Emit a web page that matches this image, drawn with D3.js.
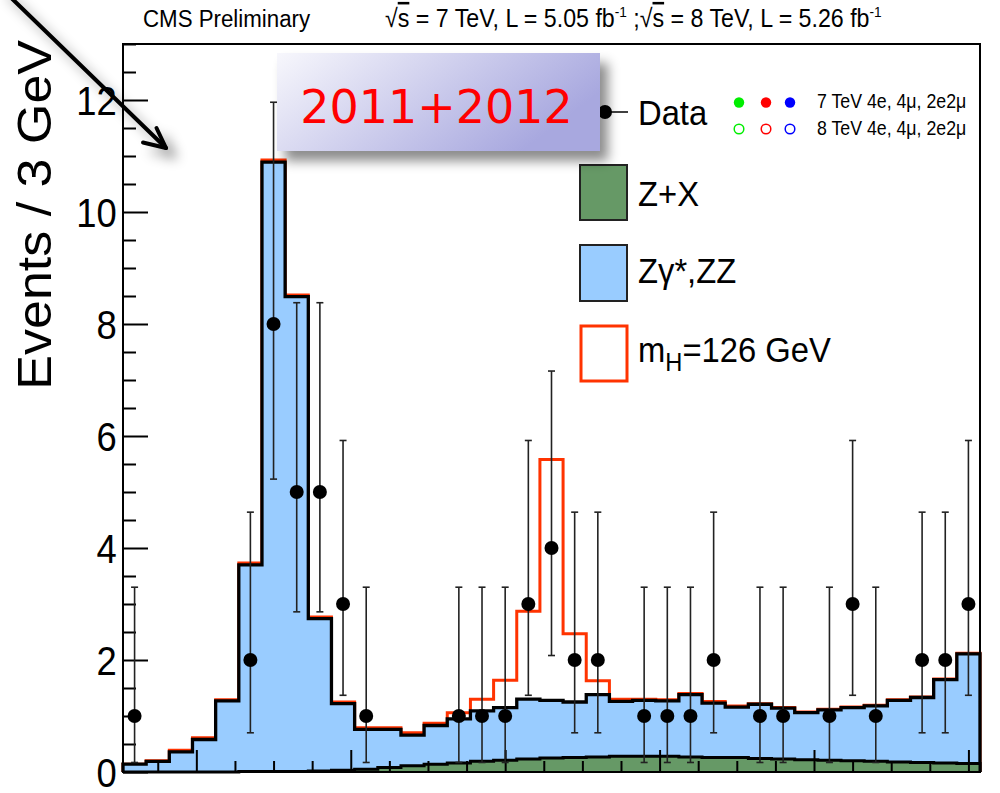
<!DOCTYPE html>
<html>
<head>
<meta charset="utf-8">
<script src="https://cdn.jsdelivr.net/npm/d3@7"></script>
<style>
  body { margin: 0; background: #fff; }
  svg { display: block; }
</style>
</head>
<body>
<script>
// Four-lepton invariant mass, 3 GeV bins from 70.5 to 181.5 GeV
const binCenters = d3.range(72, 181, 3);

// Observed events per bin
const dataCounts = [1,0,0,0,0,2,8,5,5,3,1,0,0,0,1,1,1,3,4,2,2,0,1,1,1,2,0,1,1,0,1,3,1,0,2,2,3];

// 68% Poisson intervals for the observed counts
const poissonN    = [1, 2, 3, 4, 5, 8];
const poissonLow  = [0.17, 0.70, 1.37, 2.08, 2.86, 5.23];
const poissonHigh = [3.30, 4.64, 5.92, 7.16, 8.38, 11.96];

// Expected yields per bin
const zxYield = [0.00,0.00,0.00,0.00,0.00,0.01,0.01,0.01,0.02,0.03,0.05,0.08,0.11,0.14,0.16,0.19,0.21,0.23,0.25,0.26,0.27,0.28,0.28,0.28,0.27,0.26,0.26,0.24,0.23,0.22,0.21,0.20,0.19,0.18,0.17,0.16,0.15];
const zzYield = [0.14,0.19,0.36,0.58,1.27,3.69,10.88,8.48,2.72,1.19,0.71,0.68,0.55,0.69,0.79,0.90,0.94,1.07,1.03,0.99,1.11,0.98,1.00,0.99,1.11,0.97,0.90,0.97,0.91,0.84,0.90,0.95,0.99,1.10,1.16,1.49,1.96];
const higgsYield = [0.00,0.01,0.03,0.03,0.02,0.03,0.04,0.03,0.03,0.03,0.03,0.03,0.04,0.04,0.11,0.21,0.49,1.57,4.30,1.22,0.25,0.04,0.02,0.02,0.02,0.03,0.02,0.01,0.01,0.01,0.01,0.01,0.01,0.01,0.01,0.01,0.01];

// Axis ticks
const yMajorTicks = [0, 2, 4, 6, 8, 10, 12];
const yMinorTicks = d3.range(0.5, 13.01, 0.5).filter(v => v % 2 !== 0);
const xMajorTicks = [80, 100, 120, 140, 160, 180];
const xMinorTicks = [75, 85, 90, 95, 105, 110, 115, 125, 130, 135, 145, 150, 155, 165, 170, 175];

// Legend entries for the channel markers
const channelColors = ["#00ee00", "#ff0000", "#0000ff"];
const channelLines = ["7 TeV 4e, 4\u03bc, 2e2\u03bc", "8 TeV 4e, 4\u03bc, 2e2\u03bc"];

const W = 1000, H = 793;
const frame = { left: 123, right: 980, top: 44, bottom: 772 };
const SANS = "'Liberation Sans', Arial, Helvetica, sans-serif";
const SQUEEZE = 0.91;

const colors = { zx: "#669966", zz: "#99ccff", higgs: "#ff3300" };

const svg = d3.select("body").append("svg")
  .attr("width", W).attr("height", H)
  .attr("viewBox", `0 0 ${W} ${H}`);

const defs = svg.append("defs");
const shadow = defs.append("filter").attr("id", "softShadow")
  .attr("x", "-30%").attr("y", "-30%").attr("width", "160%").attr("height", "170%");
shadow.append("feDropShadow").attr("dx", 8).attr("dy", 10)
  .attr("stdDeviation", 6).attr("flood-color", "#000").attr("flood-opacity", 0.45);

const arrowShadow = defs.append("filter").attr("id", "arrowShadow")
  .attr("x", "-50%").attr("y", "-50%").attr("width", "200%").attr("height", "200%");
arrowShadow.append("feDropShadow").attr("dx", 9).attr("dy", 9)
  .attr("stdDeviation", 6).attr("flood-color", "#000").attr("flood-opacity", 0.4);

const grad = defs.append("linearGradient").attr("id", "boxFill")
  .attr("x1", "0").attr("y1", "0").attr("x2", "1").attr("y2", "0.4");
grad.append("stop").attr("offset", "0%").attr("stop-color", "#f7f7fc");
grad.append("stop").attr("offset", "100%").attr("stop-color", "#a8a8df");

const x = d3.scaleLinear().domain([70.5, 181.5]).range([frame.left, frame.right]);
const y = d3.scaleLinear().domain([0, 13]).range([frame.bottom, frame.top]);

// Stack Z+X, ZZ and the signal
const rows = binCenters.map((m, i) => ({ m, zx: zxYield[i], zz: zzYield[i], higgs: higgsYield[i] }));
const stacked = d3.stack().keys(["zx", "zz", "higgs"])(rows);

function stepOutline(series) {
  const pts = [[x(binCenters[0] - 1.5), y(0)]];
  series.forEach((d, i) => pts.push([x(binCenters[i] - 1.5), y(d[1])]));
  pts.push([x(binCenters[binCenters.length - 1] + 1.5), y(0)]);
  return d3.line().curve(d3.curveStepAfter)(pts);
}
function stepArea(series) {
  const pts = series.map((d, i) => ({ x: binCenters[i] - 1.5, top: d[1] }));
  pts.push({ x: binCenters[binCenters.length - 1] + 1.5, top: series[series.length - 1][1] });
  return d3.area().curve(d3.curveStepAfter)
    .x(d => x(d.x)).y0(y(0)).y1(d => y(d.top))(pts);
}

const plot = svg.append("g");

// Signal + background outline
plot.append("path").attr("d", stepOutline(stacked[2]))
  .attr("fill", "none").attr("stroke", colors.higgs).attr("stroke-width", 3)
  .attr("stroke-linejoin", "miter");

// ZZ (stacked on Z+X)
plot.append("path").attr("d", stepArea(stacked[1])).attr("fill", colors.zz);
plot.append("path").attr("d", stepOutline(stacked[1]))
  .attr("fill", "none").attr("stroke", "#000").attr("stroke-width", 3.3);

// Z+X
plot.append("path").attr("d", stepArea(stacked[0])).attr("fill", colors.zx);
plot.append("path").attr("d", stepOutline(stacked[0]))
  .attr("fill", "none").attr("stroke", "#000").attr("stroke-width", 3);

// X axis ticks (inside, pointing up)
function xTicks(values, size) {
  const g = svg.append("g").attr("transform", `translate(0,${frame.bottom})`)
    .call(d3.axisTop(x).tickValues(values).tickSize(size).tickFormat(""));
  g.select(".domain").remove();
  g.selectAll("line").attr("stroke", "#000").attr("stroke-width", 2);
}
xTicks(xMajorTicks, 22);
xTicks(xMinorTicks, 11);

// Y axis ticks (inside, pointing right) and labels
const yMinor = svg.append("g").attr("transform", `translate(${frame.left},0)`)
  .call(d3.axisLeft(y).tickValues(yMinorTicks).tickSize(-13).tickFormat(""));
yMinor.select(".domain").remove();
yMinor.selectAll("line").attr("stroke", "#000").attr("stroke-width", 2);

const yMajor = svg.append("g").attr("transform", `translate(${frame.left},0)`)
  .call(d3.axisLeft(y).tickValues(yMajorTicks).tickSize(-25).tickPadding(7).tickFormat(d3.format("d")));
yMajor.select(".domain").remove();
yMajor.selectAll("line").attr("stroke", "#000").attr("stroke-width", 2);
yMajor.attr("font-family", SANS).attr("font-size", 40);
yMajor.selectAll("text").attr("fill", "#000").attr("dy", "0.36em")
  .attr("transform", `scale(${SQUEEZE},1)`);

// Data with error bars
const points = binCenters.map((m, i) => {
  const n = dataCounts[i];
  const k = poissonN.indexOf(n);
  return { m, n, lo: k >= 0 ? poissonLow[k] : null, hi: k >= 0 ? poissonHigh[k] : null };
}).filter(d => d.n > 0);

const dataG = svg.append("g");
const bars = dataG.selectAll("g.bar").data(points).join("g").attr("class", "bar");
bars.append("line")
  .attr("x1", d => x(d.m)).attr("x2", d => x(d.m))
  .attr("y1", d => y(d.lo)).attr("y2", d => y(d.hi))
  .attr("stroke", "#222").attr("stroke-width", 1.6);
bars.append("line")
  .attr("x1", d => x(d.m) - 3.5).attr("x2", d => x(d.m) + 3.5)
  .attr("y1", d => y(d.lo)).attr("y2", d => y(d.lo))
  .attr("stroke", "#222").attr("stroke-width", 1.6);
bars.append("line")
  .attr("x1", d => x(d.m) - 3.5).attr("x2", d => x(d.m) + 3.5)
  .attr("y1", d => y(d.hi)).attr("y2", d => y(d.hi))
  .attr("stroke", "#222").attr("stroke-width", 1.6);
bars.append("circle")
  .attr("cx", d => x(d.m)).attr("cy", d => y(d.n)).attr("r", 7).attr("fill", "#000");

// Frame
svg.append("rect")
  .attr("x", frame.left).attr("y", frame.top)
  .attr("width", frame.right - frame.left).attr("height", frame.bottom - frame.top)
  .attr("fill", "none").attr("stroke", "#000").attr("stroke-width", 2);

// Text helper with the horizontal squeeze used throughout
function txt(parent, px, py, size, anchor) {
  return parent.append("text")
    .attr("transform", `translate(${px},${py}) scale(${SQUEEZE},1)`)
    .attr("font-family", SANS).attr("font-size", size)
    .attr("text-anchor", anchor || "start").attr("fill", "#000");
}

// Y axis title
svg.append("text")
  .attr("transform", `translate(51,40) scale(${SQUEEZE},1) rotate(-90)`)
  .attr("font-family", SANS).attr("font-size", 52)
  .attr("text-anchor", "end").attr("fill", "#000")
  .text("Events / 3 GeV");

// Header
txt(svg, 143, 27, 24.5).text("CMS Preliminary");
const lumi = txt(svg, 385, 27, 25.5);
function sqrtS(t) {
  t.append("tspan").text("\u221a");
  t.append("tspan").attr("text-decoration", "overline").text("s");
}
sqrtS(lumi);
lumi.append("tspan").text(" = 7 TeV, L = 5.05 fb");
lumi.append("tspan").attr("font-size", 15).attr("dy", -10).text("-1");
lumi.append("tspan").attr("dy", 10).text(" ;");
sqrtS(lumi);
lumi.append("tspan").text(" = 8 TeV, L = 5.26 fb");
lumi.append("tspan").attr("font-size", 15).attr("dy", -10).text("-1");

// Legend
const leg = svg.append("g");
leg.append("line").attr("x1", 583).attr("x2", 628).attr("y1", 112).attr("y2", 112)
  .attr("stroke", "#000").attr("stroke-width", 1.6);
leg.append("circle").attr("cx", 605).attr("cy", 112).attr("r", 7).attr("fill", "#000");
txt(leg, 638, 125, 36).text("Data");

leg.append("rect").attr("x", 580).attr("y", 165).attr("width", 47).attr("height", 55)
  .attr("fill", colors.zx).attr("stroke", "#222").attr("stroke-width", 2);
txt(leg, 638, 206, 36).text("Z+X");

leg.append("rect").attr("x", 580).attr("y", 245).attr("width", 47).attr("height", 56)
  .attr("fill", colors.zz).attr("stroke", "#222").attr("stroke-width", 2);
txt(leg, 638, 283, 36).text("Z\u03b3*,ZZ");

leg.append("rect").attr("x", 581).attr("y", 326).attr("width", 46).attr("height", 55)
  .attr("fill", "#fff").attr("stroke", colors.higgs).attr("stroke-width", 3);
const mh = txt(leg, 638, 362, 36);
mh.append("tspan").text("m");
mh.append("tspan").attr("font-size", 26).attr("dy", 9).text("H");
mh.append("tspan").attr("dy", -9).text("=126 GeV");

// Channel markers: filled for 7 TeV, open for 8 TeV
const markerX = [739, 766, 790];
channelColors.forEach((c, i) => {
  leg.append("circle").attr("cx", markerX[i]).attr("cy", 102.5).attr("r", 5.2).attr("fill", c);
  leg.append("circle").attr("cx", markerX[i]).attr("cy", 129).attr("r", 4.8)
    .attr("fill", "none").attr("stroke", c).attr("stroke-width", 1.5);
});
txt(leg, 817, 108, 19.5).text(channelLines[0]);
txt(leg, 817, 135, 19.5).text(channelLines[1]);

// Period banner
const banner = svg.append("g");
banner.append("rect").attr("x", 277).attr("y", 53).attr("width", 323).attr("height", 98)
  .attr("fill", "url(#boxFill)").attr("filter", "url(#softShadow)");
banner.append("text").attr("x", 436.5).attr("y", 123)
  .attr("font-family", "'DejaVu Sans', Verdana, sans-serif").attr("font-size", 46)
  .attr("text-anchor", "middle").attr("fill", "#ff0000").text("2011+2012");

// Pointer arrow
const arrow = svg.append("g").attr("filter", "url(#arrowShadow)")
  .attr("fill", "none").attr("stroke", "#000").attr("stroke-width", 4)
  .attr("stroke-linecap", "round").attr("stroke-linejoin", "round");
arrow.append("path").attr("d", "M0,-13 L166,148");
arrow.append("path").attr("d", "M143,142.5 L166,148 L156.5,128");
</script>
</body>
</html>
